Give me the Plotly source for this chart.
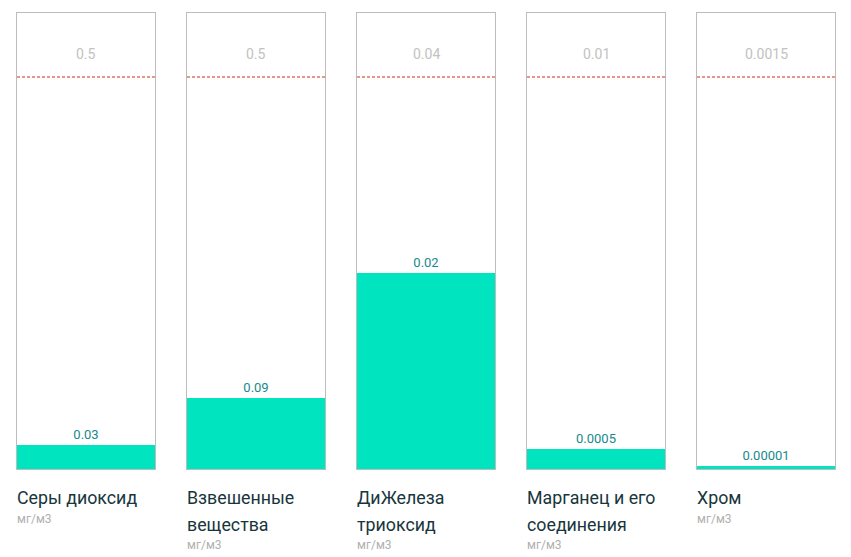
import plotly.graph_objects as go
from plotly.subplots import make_subplots

substances = ['Серы диоксид', 'Взвешенные\nвещества', 'ДиЖелеза\nтриоксид', 'Марганец и его\nсоединения', 'Хром']
values = [0.03, 0.09, 0.02, 0.0005, 0.00001]
value_labels = ['0.03', '0.09', '0.02', '0.0005', '0.00001']
limits = [0.5, 0.5, 0.04, 0.01, 0.0015]
limit_labels = ['0.5', '0.5', '0.04', '0.01', '0.0015']
unit = 'мг/м3'

BAR = '#00e5c0'
FONT = 'Roboto, Arial, sans-serif'

fig = make_subplots(rows=1, cols=5, horizontal_spacing=32 / 818)

for i, (v, vl, lim, ll, name) in enumerate(zip(values, value_labels, limits, limit_labels, substances)):
    c = i + 1
    fig.add_trace(go.Bar(x=[0], y=[v], width=[1], marker=dict(color=BAR, line=dict(width=0)),
                         text=[vl], textposition='outside', cliponaxis=False,
                         textfont=dict(color='#178a8c', size=13, family=FONT),
                         hoverinfo='skip', showlegend=False), row=1, col=c)
    fig.update_xaxes(range=[-0.5, 0.5], showticklabels=False, showgrid=False, zeroline=False,
                     showline=True, mirror=True, linecolor='#bdbdbd', linewidth=1, ticks='', row=1, col=c)
    fig.update_yaxes(range=[0, lim * 456 / 392], showticklabels=False, showgrid=False, zeroline=False,
                     showline=True, mirror=True, linecolor='#bdbdbd', linewidth=1, ticks='', row=1, col=c)
    xr = 'x' if c == 1 else f'x{c}'
    yr = 'y' if c == 1 else f'y{c}'
    # dashed limit line
    fig.add_shape(type='line', xref=f'{xr} domain', yref=yr, x0=0, x1=1, y0=lim, y1=lim,
                  line=dict(color='#c92d1a', width=1, dash='3px,2px'))
    fig.add_annotation(xref=f'{xr} domain', yref=yr, x=0.5, y=lim, yshift=23, text=ll, showarrow=False,
                       font=dict(color='#c2c2c2', size=14, family=FONT))
    # titles under the panel
    lines = name.split('\n')
    for j, line in enumerate(lines):
        fig.add_annotation(xref=f'{xr} domain', yref='paper', x=0, y=0, xshift=-2, yshift=-(28 + 27 * j),
                           xanchor='left', yanchor='middle', text=line, showarrow=False,
                           font=dict(color='#18353c', size=17.8, family=FONT))
    fig.add_annotation(xref=f'{xr} domain', yref='paper', x=0, y=0, xshift=-2, yshift=-(50 + 26 * (len(lines) - 1)),
                       xanchor='left', yanchor='middle', text=unit, showarrow=False,
                       font=dict(color='#b0b0b0', size=12, family=FONT))

# page has an 8px body margin, so the figure is shifted to match
fig.update_layout(width=835, height=549, margin=dict(l=9, r=8, t=5, b=88),
                  plot_bgcolor='white', paper_bgcolor='white', bargap=0)

fig.write_html('out.html')
